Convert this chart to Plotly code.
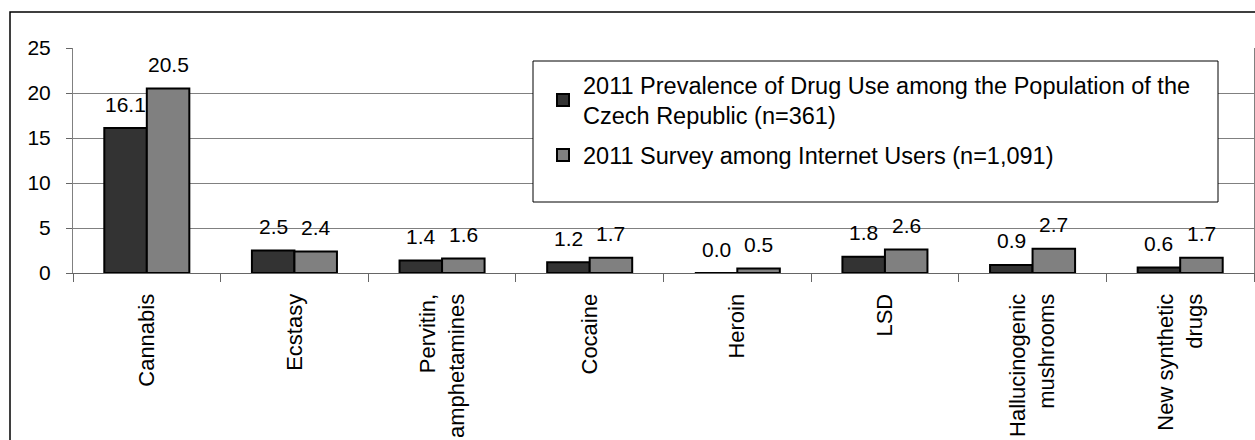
import plotly.graph_objects as go

categories = ["Cannabis", "Ecstasy", "Pervitin,<br>amphetamines", "Cocaine", "Heroin",
              "LSD", "Hallucinogenic<br>mushrooms", "New synthetic<br>drugs"]
series_names = ["2011 Prevalence of Drug Use among the Population of the<br>Czech Republic (n=361)",
                "2011 Survey among Internet Users (n=1,091)"]
population = [16.1, 2.5, 1.4, 1.2, 0.0, 1.8, 0.9, 0.6]
internet = [20.5, 2.4, 1.6, 1.7, 0.5, 2.6, 2.7, 1.7]
y_ticks = [0, 5, 10, 15, 20, 25]

FONT = "Arial, Liberation Sans, sans-serif"
colors = ["#333333", "#808080"]

fig = go.Figure()
for i, (name, vals, col) in enumerate(zip(series_names, [population, internet], colors)):
    fig.add_trace(go.Bar(
        x=categories, y=vals, name=name, legendgroup=f"g{i}",
        marker=dict(color=col, line=dict(color="#000000", width=2)),
    ))

W, H = 1255, 440
ml, mr, mt, mb = 73, 1, 48, 167
plot_w = W - ml - mr
plot_h = H - mt - mb
cat_w = plot_w / len(categories)
bargap = 0.424
bar_w = cat_w * (1 - bargap) / 2

# data labels above bars
annotations = []
for k, vals in enumerate([population, internet]):
    shift = (k - 0.5) * bar_w
    for c, v in zip(categories, vals):
        annotations.append(dict(
            x=c, y=v, xref="x", yref="y", text=f"{v:.1f}", showarrow=False,
            xshift=shift, yshift=24, yanchor="middle", xanchor="center",
            font=dict(family=FONT, size=21, color="#000000"),
        ))

shapes = [
    # outer chart frame
    dict(type="rect", xref="paper", yref="paper",
         x0=(10 - ml) / plot_w, x1=(W + 20 - ml) / plot_w,
         y0=-(H + 20 - (H - mb)) / plot_h, y1=(H - mb - 12) / plot_h,
         line=dict(color="#000000", width=1.5), fillcolor="rgba(0,0,0,0)", layer="above"),
    # legend box
    dict(type="rect", xref="paper", yref="paper",
         x0=(533 - ml) / plot_w, x1=(1218 - ml) / plot_w,
         y0=(H - mb - 202) / plot_h, y1=(H - mb - 61) / plot_h,
         line=dict(color="#000000", width=1), fillcolor="#ffffff", layer="above"),
]

fig.update_layout(
    width=W, height=H,
    margin=dict(l=ml, r=mr, t=mt, b=mb, autoexpand=False),
    paper_bgcolor="#ffffff", plot_bgcolor="#ffffff",
    barmode="group", bargap=bargap, bargroupgap=0,
    font=dict(family=FONT, size=21, color="#000000"),
    showlegend=True,
    legend=dict(
        x=(543 - ml) / plot_w, y=(H - mb - 63) / plot_h,
        xanchor="left", yanchor="top",
        bgcolor="rgba(0,0,0,0)", borderwidth=0,
        font=dict(family=FONT, size=23.5, color="#000000"),
        tracegroupgap=6, traceorder="grouped",
    ),
    xaxis=dict(
        showline=True, linecolor="#666666", linewidth=1,
        ticks="outside", tickson="boundaries", ticklen=8, tickcolor="#666666",
        tickangle=-90, tickfont=dict(family=FONT, size=22),
        ticklabelstandoff=11, automargin=False, showgrid=False,
    ),
    yaxis=dict(
        range=[0, 25], tickvals=y_ticks, showgrid=True, gridcolor="#808080", gridwidth=1,
        showline=True, linecolor="#808080", linewidth=1, mirror=True,
        ticks="outside", ticklen=6, tickcolor="#666666",
        tickfont=dict(family=FONT, size=21), ticklabelstandoff=11,
        zeroline=False, automargin=False,
    ),
    annotations=annotations,
    shapes=shapes,
)

fig.write_html("out.html", config={"displayModeBar": False},
               post_script="document.body.style.margin='0';document.body.style.overflow='hidden';")
